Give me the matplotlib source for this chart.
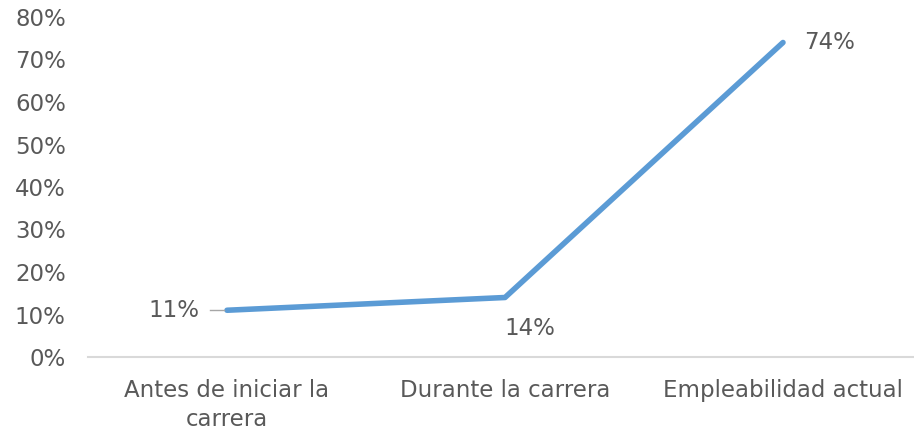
import matplotlib.pyplot as plt

plt.rcParams['font.family'] = ['DejaVu Sans']

categories = ['Antes de iniciar la\ncarrera', 'Durante la carrera', 'Empleabilidad actual']
values = [0.11, 0.14, 0.74]
value_labels = ['11%', '14%', '74%']
y_ticks = [0.0, 0.1, 0.2, 0.3, 0.4, 0.5, 0.6, 0.7, 0.8]

text_color = '#595959'
fs = 16.5

fig = plt.figure(figsize=(9.14, 4.34), dpi=100)
ax = fig.add_axes([88 / 914, 77 / 434, 834 / 914, 340 / 434])

x = list(range(len(categories)))
ax.plot(x, values, color='#5B9BD5', linewidth=4, solid_capstyle='round')

ax.set_xlim(-0.5, 2.5)
ax.set_ylim(0, 0.8)
ax.set_yticks(y_ticks)
ax.set_yticklabels(['{:.0f}%'.format(v * 100) for v in y_ticks])
ax.set_xticks(x)
ax.set_xticklabels(categories, linespacing=1.3)

for s in ['top', 'right', 'left']:
    ax.spines[s].set_visible(False)
ax.spines['bottom'].set_color('#D9D9D9')
ax.spines['bottom'].set_linewidth(1.5)
ax.tick_params(axis='both', length=0, labelsize=fs, colors=text_color)
ax.tick_params(axis='x', pad=16)
ax.tick_params(axis='y', pad=16)

# Data labels: left with leader line, below, right.
ax.plot([x[0] - 0.06, x[0] - 0.01], [values[0], values[0]], color='#A6A6A6', linewidth=1)
ax.annotate(value_labels[0], (x[0], values[0]), xytext=(-20, 0), textcoords='offset points',
            ha='right', va='center', fontsize=fs, color=text_color)
ax.annotate(value_labels[1], (x[1], values[1]), xytext=(18, -22), textcoords='offset points',
            ha='center', va='center', fontsize=fs, color=text_color)
ax.annotate(value_labels[2], (x[2], values[2]), xytext=(15, 0), textcoords='offset points',
            ha='left', va='center', fontsize=fs, color=text_color)

fig.savefig('out.png', dpi=100)
